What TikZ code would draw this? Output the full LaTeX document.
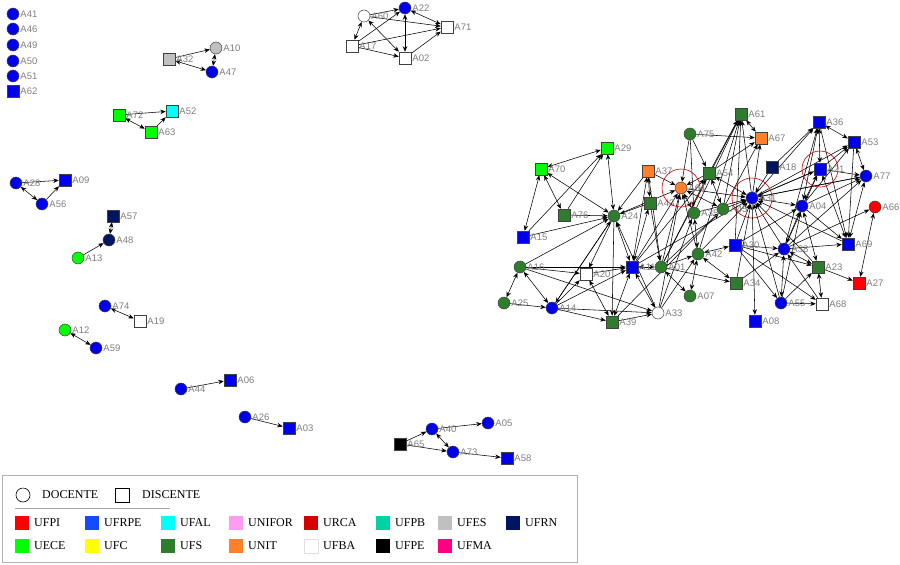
\documentclass[tikz,border=0pt]{standalone}
\usepackage{fontspec}
\setmainfont{Liberation Serif}
\newfontfamily\lblfont{Liberation Sans}
\usetikzlibrary{arrows.meta,backgrounds}
\definecolor{cUFPI}{RGB}{255,0,0}
\definecolor{cUFRPE}{RGB}{20,75,255}
\definecolor{cUFAL}{RGB}{0,255,255}
\definecolor{cUNIFOR}{RGB}{255,155,240}
\definecolor{cURCA}{RGB}{215,0,0}
\definecolor{cUFPB}{RGB}{0,210,165}
\definecolor{cUFES}{RGB}{192,192,192}
\definecolor{cUFRN}{RGB}{0,20,95}
\definecolor{cUECE}{RGB}{0,255,0}
\definecolor{cUFC}{RGB}{255,255,0}
\definecolor{cUFS}{RGB}{45,125,45}
\definecolor{cUNIT}{RGB}{255,128,40}
\definecolor{cUFBA}{RGB}{255,255,255}
\definecolor{cUFPE}{RGB}{0,0,0}
\definecolor{cUFMA}{RGB}{255,0,128}
\definecolor{nblue}{RGB}{0,0,235}
\definecolor{lgray}{RGB}{125,125,125}
\tikzset{
  dc/.style={circle,draw=black!75,line width=0.5pt,minimum size=12pt,inner sep=0pt},
  ds/.style={rectangle,draw=black!75,line width=0.5pt,minimum size=12pt,inner sep=0pt},
  lbl/.style={font=\lblfont\fontsize{9.5}{10}\selectfont,text=lgray,inner sep=1pt,label distance=0pt},
  e/.style={-{Stealth[length=5.5pt,width=4.5pt]},line width=0.55pt,black},
  b/.style={{Stealth[length=5.5pt,width=4.5pt]}-{Stealth[length=5.5pt,width=4.5pt]},line width=0.55pt,black},
  ring/.style={draw=red!80!black,line width=0.6pt},
  sw/.style={rectangle,minimum size=14pt,inner sep=0pt},
  lt/.style={font=\fontsize{12}{13}\selectfont,anchor=west,inner sep=0pt},
}
\newcommand\Nd[5]{\node[#2,fill=#3,label={[lbl]right:#1}] (#1) at (#4,#5) {};}
\begin{document}
\begin{tikzpicture}[x=1pt,y=-1pt]
\useasboundingbox (0,0) rectangle (900,565);
% isolated
\Nd{A41}{dc}{nblue}{13}{14}
\Nd{A46}{dc}{nblue}{13}{29}
\Nd{A49}{dc}{nblue}{13}{45}
\Nd{A50}{dc}{nblue}{13}{61}
\Nd{A51}{dc}{nblue}{13}{76}
\Nd{A62}{ds}{nblue}{13}{91}
% small groups
\Nd{A32}{ds}{cUFES}{169}{59}
\Nd{A10}{dc}{cUFES}{216}{48}
\Nd{A47}{dc}{nblue}{212}{72}
\Nd{A72}{ds}{cUECE}{119}{115}
\Nd{A52}{ds}{cUFAL}{172}{111}
\Nd{A63}{ds}{cUECE}{151}{132}
\Nd{A28}{dc}{nblue}{16}{183}
\Nd{A09}{ds}{nblue}{65}{180}
\Nd{A56}{dc}{nblue}{42}{204}
\Nd{A57}{ds}{cUFRN}{113}{216}
\Nd{A48}{dc}{cUFRN}{109}{240}
\Nd{A13}{dc}{cUECE}{78}{258}
\Nd{A74}{dc}{nblue}{105}{306}
\Nd{A19}{ds}{cUFBA}{140}{321}
\Nd{A12}{dc}{cUECE}{65}{330}
\Nd{A59}{dc}{nblue}{96}{348}
\Nd{A44}{dc}{nblue}{181}{389}
\Nd{A06}{ds}{nblue}{230}{380}
\Nd{A26}{dc}{nblue}{245}{417}
\Nd{A03}{ds}{nblue}{289}{428}
\Nd{A40}{dc}{nblue}{432}{429}
\Nd{A05}{dc}{nblue}{488}{423}
\Nd{A65}{ds}{cUFPE}{400}{444}
\Nd{A73}{dc}{nblue}{453}{452}
\Nd{A58}{ds}{nblue}{507}{458}
\Nd{A60}{dc}{white}{364}{16}
\Nd{A22}{dc}{nblue}{405}{8}
\Nd{A71}{ds}{white}{447}{27}
\Nd{A17}{ds}{white}{352}{46}
\Nd{A02}{ds}{white}{405}{58}
% main cluster
\Nd{A29}{ds}{cUECE}{607}{148}
\Nd{A70}{ds}{cUECE}{541}{169}
\Nd{A76}{ds}{cUFS}{564}{215}
\Nd{A15}{ds}{nblue}{523}{237}
\Nd{A24}{dc}{cUFS}{614}{216}
\Nd{A37}{ds}{cUNIT}{648}{171}
\Nd{A43}{ds}{cUFS}{650}{203}
\Nd{A11}{ds}{nblue}{632}{267}
\Nd{A16}{dc}{cUFS}{520}{267}
\Nd{A20}{ds}{white}{586}{274}
\Nd{A25}{dc}{cUFS}{504}{303}
\Nd{A14}{dc}{nblue}{552}{308}
\Nd{A39}{ds}{cUFS}{612}{322}
\Nd{A33}{dc}{white}{658}{313}
\Nd{A01}{dc}{cUFS}{661}{267}
\Nd{A61}{ds}{cUFS}{741}{114}
\Nd{A75}{dc}{cUFS}{690}{134}
\Nd{A67}{ds}{cUNIT}{761}{138}
\Nd{A64}{dc}{cUNIT}{681}{188}
\Nd{A54}{ds}{cUFS}{709}{173}
\Nd{A18}{ds}{cUFRN}{772}{167}
\Nd{A31}{dc}{nblue}{752}{198}
\Nd{A35}{dc}{cUFS}{694}{213}
\Nd{A45}{dc}{cUFS}{723}{209}
\Nd{A42}{dc}{cUFS}{698}{254}
\Nd{A30}{ds}{nblue}{735}{245}
\Nd{A36}{ds}{nblue}{819}{122}
\Nd{A53}{ds}{nblue}{854}{142}
\Nd{A21}{ds}{nblue}{820}{169}
\Nd{A77}{dc}{nblue}{866}{176}
\Nd{A04}{dc}{nblue}{802}{206}
\Nd{A66}{dc}{cUFPI}{875}{207}
\Nd{A38}{dc}{nblue}{784}{249}
\Nd{A69}{ds}{nblue}{848}{244}
\Nd{A23}{ds}{cUFS}{818}{267}
\Nd{A27}{ds}{cUFPI}{859}{283}
\Nd{A07}{dc}{cUFS}{690}{296}
\Nd{A34}{ds}{cUFS}{736}{283}
\Nd{A55}{dc}{nblue}{781}{303}
\Nd{A68}{ds}{white}{822}{304}
\Nd{A08}{ds}{nblue}{755}{321}
% rings
\draw[ring] (A64) circle (19pt);
\draw[ring] (A31) circle (20pt);
\draw[ring] (A21) circle (18pt);
\begin{pgfonlayer}{background}
\foreach \a/\c in {A32/A10,A72/A52,A63/A52,A28/A09,A56/A09,A13/A48,A44/A06,A26/A03,
  A65/A40,A65/A73,A40/A05,A73/A58,
  A60/A22,A60/A71,A17/A22,A17/A71,A17/A02,A02/A71,
  A15/A29,A76/A29,A15/A24,A76/A24,A37/A24,A24/A39,A24/A14,A24/A20,A16/A24,A16/A20,
  A16/A33,A16/A11,A20/A11,A14/A39,A14/A33,A25/A14,A14/A20,A14/A11,A39/A33,A33/A24,
  A43/A24,A14/A24,
  A37/A64,A75/A64,A54/A64,A01/A64,A11/A64,A42/A64,A43/A01,A37/A01,A01/A42,A75/A67,
  A75/A54,A75/A35,A54/A61,A31/A61,A45/A61,A30/A61,A42/A61,A35/A61,A54/A67,A31/A67,
  A45/A67,A18/A31,A64/A31,A35/A31,A45/A31,A42/A31,A30/A31,A38/A31,A21/A31,
  A77/A31,A34/A31,A55/A31,A23/A31,A69/A31,A11/A31,A01/A45,A11/A54,A01/A54,A01/A61,
  A24/A64,A33/A64,A33/A35,A39/A45,A33/A42,A01/A34,
  A18/A36,A31/A36,A38/A36,A21/A53,A04/A53,A31/A53,A38/A21,A31/A21,A21/A77,
  A04/A77,A38/A77,A31/A77,A38/A66,A55/A04,A30/A04,A30/A38,A68/A38,A38/A69,A34/A38,
  A23/A27,A55/A23,A30/A23,A31/A08,A55/A68,A30/A68,A30/A55,A36/A69,A53/A69,A04/A69}
  \draw[e] (\a) -- (\c);
\foreach \a/\c in {A32/A47,A10/A47,A72/A63,A28/A56,A57/A48,A74/A19,A12/A59,A40/A73,
  A60/A17,A60/A02,A22/A02,A22/A71,
  A70/A29,A70/A15,A70/A76,A70/A24,A29/A24,A24/A11,A37/A43,A16/A25,A16/A14,A20/A39,
  A11/A39,A11/A33,A43/A11,A37/A11,
  A35/A64,A35/A42,A61/A67,A54/A31,A54/A45,A64/A45,A42/A34,A42/A07,A01/A07,A42/A30,
  A11/A01,
  A04/A36,A21/A36,A53/A36,A77/A53,A04/A21,A69/A21,A69/A77,A66/A27,A38/A04,A23/A04,
  A55/A38,A23/A38,A68/A23,A31/A04}
  \draw[b] (\a) -- (\c);
\end{pgfonlayer}
% legend
\draw[gray!60,line width=0.6pt] (2,475) rectangle (577,562);
\node[circle,draw=black,line width=0.6pt,minimum size=14pt,inner sep=0pt] (lc) at (23,495) {};
\node[lt] (ldoc) at (42,495) {DOCENTE};
\node[rectangle,draw=black,line width=0.6pt,minimum size=14pt,inner sep=0pt] (ls) at (122,495) {};
\node[lt] (ldis) at (142,495) {DISCENTE};
\draw[gray!70,line width=0.5pt] (15,508) -- (170,508);
\foreach \x/\t/\n [count=\i] in {15/UFPI/UFPI,85/UFRPE/UFRPE,161/UFAL/UFAL,229/UNIFOR/UNIFOR,304/URCA/URCA,376/UFPB/UFPB,438/UFES/UFES,506/UFRN/UFRN}{
  \node[sw,fill=c\n,anchor=west] (s\n) at (\x,523) {};
  \node[lt] (t\n) at (\x+19,523) {\t};
}
\foreach \x/\t/\n [count=\i] in {15/UECE/UECE,85/UFC/UFC,161/UFS/UFS,229/UNIT/UNIT,304/UFBA/UFBA,376/UFPE/UFPE,438/UFMA/UFMA}{
  \node[sw,fill=c\n,anchor=west] (s\n) at (\x,546) {};
  \node[lt] (t\n) at (\x+19,546) {\t};
}
\draw[gray!25,line width=0.4pt] (sUFBA.north west) rectangle (sUFBA.south east);
\end{tikzpicture}
\end{document}
